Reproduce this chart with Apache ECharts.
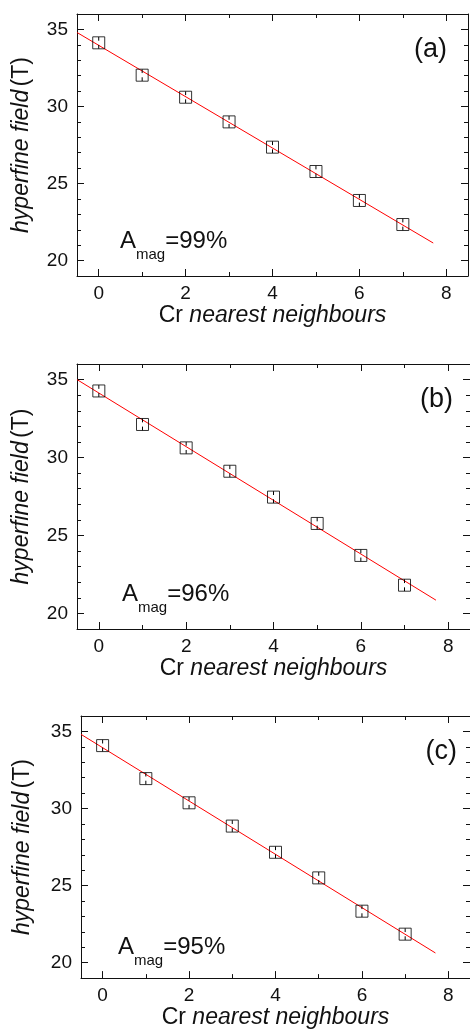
<!DOCTYPE html>
<html>
<head>
<meta charset="utf-8">
<script src="https://cdn.jsdelivr.net/npm/echarts@6/dist/echarts.min.js"></script>
<style>
  html, body { margin: 0; padding: 0; background: #fff; }
  #chart { width: 470px; height: 1030px; }
</style>
</head>
<body>
<div id="chart"></div>
<script>
// values
var neighbours = [0, 1, 2, 3, 4, 5, 6, 7];
var fieldA = [34.13, 32.03, 30.60, 29.00, 27.36, 25.78, 23.90, 22.34];
var fieldB = [34.27, 32.12, 30.62, 29.12, 27.46, 25.77, 23.72, 21.81];
var fieldC = [34.08, 31.94, 30.37, 28.86, 27.16, 25.50, 23.34, 21.85];
var errA = [0.38, 0.38, 0.38, 0.38, 0.38, 0.38, 0.38, 0.38];
var errB = [0.38, 0.38, 0.38, 0.38, 0.38, 0.38, 0.38, 0.38];
var errC = [0.38, 0.38, 0.38, 0.38, 0.38, 0.38, 0.38, 0.38];
// straight fit lines, end points
var fitA = [[-0.5, 34.80], [7.70, 21.14]];
var fitB = [[-0.5, 35.00], [7.72, 20.85]];
var fitC = [[-0.5, 34.81], [7.70, 20.63]];
var panelLabels = ['(a)', '(b)', '(c)'];
var amagValues = ['=99%', '=96%', '=95%'];
var xMajor = [0, 2, 4, 6, 8];
var xMinor = [1, 3, 5, 7];
var yMajor = [20, 25, 30, 35];
var yMinor = [21, 22, 23, 24, 26, 27, 28, 29, 31, 32, 33, 34];

var fields = [fieldA, fieldB, fieldC];
var errs = [errA, errB, errC];
var fits = [fitA, fitB, fitC];

var FONT = 'Liberation Sans, Arial, sans-serif';
var INK = '#111';

// plot boxes
var panels = [
  { left: 77, top: 14,  width: 391, height: 262, yGap: 44, labelX: 447, amagX: 120, amagY: 229 },
  { left: 77, top: 364, width: 397, height: 265, yGap: 44, labelX: 453, amagX: 122, amagY: 582 },
  { left: 81, top: 716, width: 400, height: 267, yGap: 47, labelX: 457, amagX: 118, amagY: 935 }
];

var grids = [], xAxes = [], yAxes = [], series = [], graphics = [];

function xAxis(gi, pos, ticks, len, main) {
  var labelled = main && pos === 'bottom';
  return {
    type: 'value', gridIndex: gi, position: pos, min: -0.5, max: 8.5,
    name: labelled ? '{n|Cr }{i|nearest neighbours}' : '',
    nameLocation: 'middle', nameGap: 24,
    nameTextStyle: {
      rich: {
        n: { fontFamily: FONT, fontSize: 23, color: INK },
        i: { fontFamily: FONT, fontSize: 23, color: INK, fontStyle: 'italic' }
      }
    },
    axisLine: { show: main, onZero: false, lineStyle: { color: INK, width: 1 } },
    axisTick: { show: true, inside: true, length: len, customValues: ticks, lineStyle: { color: INK, width: 1 } },
    axisLabel: { show: labelled, customValues: xMajor, margin: 8, fontFamily: FONT, fontSize: 19, color: INK },
    splitLine: { show: false }
  };
}

function yAxis(gi, pos, ticks, len, main, gap) {
  var labelled = main && pos === 'left';
  return {
    type: 'value', gridIndex: gi, position: pos, min: 19, max: 36,
    name: labelled ? '{i|hyperfine field} {n|(T)}' : '',
    nameLocation: 'middle', nameGap: gap,
    nameTextStyle: {
      rich: {
        n: { fontFamily: FONT, fontSize: 23, color: INK },
        i: { fontFamily: FONT, fontSize: 23, color: INK, fontStyle: 'italic' }
      }
    },
    axisLine: { show: main, onZero: false, lineStyle: { color: INK, width: 1 } },
    axisTick: { show: true, inside: true, length: len, customValues: ticks, lineStyle: { color: INK, width: 1 } },
    axisLabel: { show: labelled, customValues: yMajor, margin: 9, fontFamily: FONT, fontSize: 19, color: INK },
    splitLine: { show: false }
  };
}

function errorBars(params, api) {
  var x = api.value(0), y = api.value(1), e = api.value(2);
  var top = api.coord([x, y + e]);
  var bot = api.coord([x, y - e]);
  var seg = (bot[1] - top[1]) * 0.32;
  var st = { stroke: '#000', lineWidth: 1 };
  return {
    type: 'group',
    children: [
      { type: 'line', shape: { x1: top[0], y1: top[1], x2: top[0], y2: top[1] + seg }, style: st },
      { type: 'line', shape: { x1: bot[0], y1: bot[1] - seg, x2: bot[0], y2: bot[1] }, style: st }
    ]
  };
}

panels.forEach(function (p, i) {
  grids.push({ left: p.left, top: p.top, width: p.width, height: p.height, containLabel: false });
  var xb = xAxes.length, yb = yAxes.length;
  xAxes.push(xAxis(i, 'bottom', xMajor, 7, true));
  xAxes.push(xAxis(i, 'bottom', xMinor, 4, false));
  xAxes.push(xAxis(i, 'top', xMajor, 7, true));
  xAxes.push(xAxis(i, 'top', xMinor, 4, false));
  yAxes.push(yAxis(i, 'left', yMajor, 7, true, p.yGap));
  yAxes.push(yAxis(i, 'left', yMinor, 4, false, p.yGap));
  yAxes.push(yAxis(i, 'right', yMajor, 7, true, p.yGap));
  yAxes.push(yAxis(i, 'right', yMinor, 4, false, p.yGap));

  series.push({
    type: 'line', xAxisIndex: xb, yAxisIndex: yb,
    data: fits[i], symbol: 'none', silent: true,
    lineStyle: { color: '#ff0000', width: 1 }, z: 2
  });
  series.push({
    type: 'scatter', xAxisIndex: xb, yAxisIndex: yb,
    data: neighbours.map(function (n, k) { return [n, fields[i][k]]; }),
    symbol: 'rect', symbolSize: 12,
    itemStyle: { color: 'rgba(0,0,0,0)', borderColor: '#000', borderWidth: 1 }, z: 3
  });
  series.push({
    type: 'custom', xAxisIndex: xb, yAxisIndex: yb,
    data: neighbours.map(function (n, k) { return [n, fields[i][k], errs[i][k]]; }),
    encode: { x: 0, y: 1 },
    renderItem: errorBars, z: 3
  });

  graphics.push({
    type: 'text', x: p.labelX, y: p.top + 36,
    style: { text: panelLabels[i], font: '27px ' + FONT, fill: INK, textAlign: 'right', textVerticalAlign: 'middle' }
  });
  graphics.push({
    type: 'text', x: p.amagX, y: p.amagY,
    style: {
      text: '{a|A}{s|mag}{a|' + amagValues[i] + '}',
      textAlign: 'left', textVerticalAlign: 'top',
      rich: {
        a: { fontFamily: FONT, fontSize: 24, lineHeight: 24, verticalAlign: 'top', fill: INK, color: INK },
        s: { fontFamily: FONT, fontSize: 15, lineHeight: 15, verticalAlign: 'top', padding: [18, 0, 0, 0], fill: INK, color: INK }
      }
    }
  });
});

var chart = echarts.init(document.getElementById('chart'));
chart.setOption({
  animation: false,
  backgroundColor: '#fff',
  grid: grids,
  xAxis: xAxes,
  yAxis: yAxes,
  series: series,
  graphic: graphics
});
window.addEventListener('resize', function () { chart.resize(); });
</script>
</body>
</html>
